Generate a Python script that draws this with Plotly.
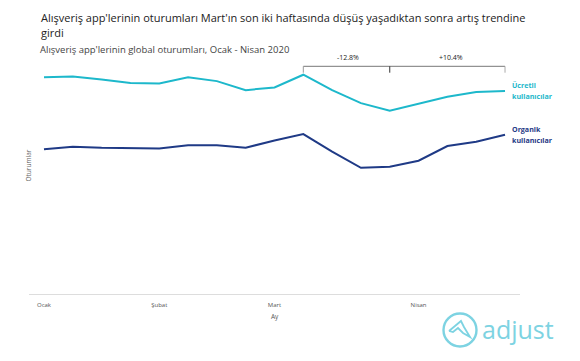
import plotly.graph_objects as go

weeks = list(range(17))
paid = [98.6, 98.9, 97.5, 95.9, 95.7, 98.6, 96.8, 92.7, 93.9, 99.7, 92.7, 86.8, 83.3, 86.4, 89.7, 91.8, 92.3]
organic = [65.8, 67.0, 66.5, 66.2, 66.2, 67.6, 67.6, 66.5, 69.8, 72.7, 64.7, 57.4, 57.9, 60.6, 67.3, 69.2, 72.4]
tick_weeks = [0, 4, 8, 13]
tick_labels = ["Ocak", "Şubat", "Mart", "Nisan"]
title_line1 = "Alışveriş app'lerinin oturumları Mart'ın son iki haftasında düşüş yaşadıktan sonra artış trendine"
title_line2 = "girdi"
subtitle_text = "Alışveriş app'lerinin global oturumları, Ocak - Nisan 2020"

W, H = 580, 361
L, R, T, B = 29, 520, 60, 294
TEAL, NAVY, LOGO = "#1db8cb", "#1f3a86", "#7dd3e2"
FONT = "Open Sans"

def px(x):
    return (x - L) / (R - L)

def py(y):
    return (B - y) / (B - T)

fig = go.Figure()
fig.add_trace(go.Scatter(x=weeks, y=paid, mode="lines", line=dict(color=TEAL, width=2), showlegend=False))
fig.add_trace(go.Scatter(x=weeks, y=organic, mode="lines", line=dict(color=NAVY, width=2), showlegend=False))

def text(x, y, s, size, color, anchor="left", angle=0):
    fig.add_annotation(xref="paper", yref="paper", x=px(x), y=py(y), text=s, showarrow=False,
                       xanchor=anchor, yanchor="middle", align=anchor,
                       textangle=angle, font=dict(family=FONT, size=size, color=color))

text(39, 17, title_line1, 11, "#222222")
text(39, 33, title_line2, 11, "#222222")
text(37.5, 50, subtitle_text, 9.5, "#444444")
text(510, 85, "<b>Ücretli</b>", 7.1, TEAL)
text(510, 96, "<b>kullanıcılar</b>", 7.1, TEAL)
text(509.5, 129, "<b>Organik</b>", 7.1, NAVY)
text(509.5, 140, "<b>kullanıcılar</b>", 7.1, NAVY)
text(348, 57, "-12.8%", 7, "#222222", "center")
text(450.7, 57, "+10.4%", 7, "#222222", "center")
text(275, 316, "Ay", 6.5, "#555555", "center")
text(27.5, 166, "Oturumlar", 6.5, "#666666", "center", -90)

# Bracket above March-April
fig.add_shape(type="line", xref="x", yref="paper", x0=9, x1=16, y0=py(66.3), y1=py(66.3),
              line=dict(color="#777777", width=1))
for wk, tick_color in [(9, "#999999"), (12, "#333333"), (16, "#aaaaaa")]:
    fig.add_shape(type="line", xref="x", yref="paper", x0=wk, x1=wk, y0=py(66.3), y1=py(72.7),
                  line=dict(color=tick_color, width=1))

# adjust logo
fig.add_shape(type="circle", xref="paper", yref="paper", x0=px(443.5), x1=px(476.5), y0=py(346.5), y1=py(313.5),
              line=dict(color=LOGO, width=2.4))
mark = [(449, 331), (455, 326), (461, 321), (464, 327), (470, 337), (463, 333), (458, 328), (453, 332), (449, 331)]
path = "M " + " L ".join(f"{px(a):.4f} {py(b):.4f}" for a, b in mark)
fig.add_shape(type="path", xref="paper", yref="paper", path=path, line=dict(color=LOGO, width=1.8))
text(480, 329, "adjust", 25, LOGO)

fig.update_layout(
    width=W, height=H, margin=dict(l=L, r=W - R, t=T, b=H - B, pad=0),
    paper_bgcolor="white", plot_bgcolor="white",
    font=dict(family=FONT),
    xaxis=dict(range=[-0.52, 16.52], tickmode="array", tickvals=tick_weeks, ticktext=tick_labels,
               showgrid=False, zeroline=False, showline=True, linecolor="#dddddd", linewidth=1,
               ticks="outside", ticklen=5, tickcolor="rgba(0,0,0,0)", tickfont=dict(size=6, color="#555555")),
    yaxis=dict(range=[0, 106.4], showgrid=False, zeroline=False, showticklabels=False, ticks=""),
)
fig.write_html("out.html", post_script="document.body.style.margin='0';", config={"displayModeBar": False})
